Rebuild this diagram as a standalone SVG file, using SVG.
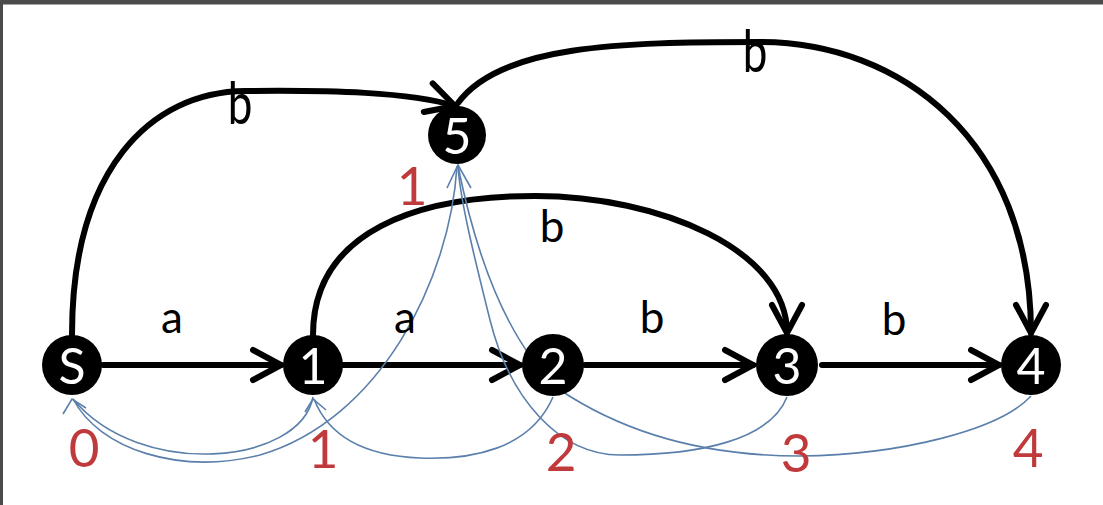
<svg xmlns="http://www.w3.org/2000/svg" width="1103" height="505" viewBox="0 0 1103 505">
<defs>
<style>
.edge{fill:none;stroke:#000;stroke-width:6;stroke-linecap:round}
.fail{fill:none;stroke:#5a7fab;stroke-width:1.6}
.node{fill:#000}
.nl{fill:#fff;font-family:Lato,"Open Sans",sans-serif;font-size:50px;text-anchor:middle}
.lbl{fill:#000;font-family:Lato,"Open Sans",sans-serif;font-size:44px;text-anchor:middle}
.num{fill:#c0393b;font-family:Lato,"Open Sans",sans-serif;font-size:53px;text-anchor:middle}
</style>
<marker id="ah" markerUnits="userSpaceOnUse" markerWidth="40" markerHeight="40" viewBox="-34 -20 40 40" refX="0" refY="0" orient="auto">
<path d="M-28,-15 L0,0 L-28,15" fill="none" stroke="#000" stroke-width="6" stroke-linecap="round" stroke-linejoin="miter"/>
</marker>
</defs>
<rect x="0" y="0" width="1103" height="505" fill="#fff"/>
<rect x="0" y="0" width="1103" height="4.5" fill="#4b4b4b"/>
<rect x="0" y="0" width="3" height="505" fill="#4b4b4b"/>

<g id="connectors">
<path class="edge" d="M103,365 L281,365" marker-end="url(#ah)"/>
<path class="edge" d="M342,365 L520,365" marker-end="url(#ah)"/>
<path class="edge" d="M585,365 L753,365" marker-end="url(#ah)"/>
<path class="edge" d="M822,365 L999,365" marker-end="url(#ah)"/>
<path class="edge" d="M72,335 C72,170 150,92 245,91 C330,90 410,92 455,106" marker-end="url(#ah)"/>
<path class="edge" d="M458,103 C500,45 620,42 760,42 C900,42 1031,140 1031,333" marker-end="url(#ah)"/>
<path class="edge" d="M313,335 C313,230 420,196 535,196 C660,196 787,250 787,333" marker-end="url(#ah)"/>

<path class="fail" d="M313,397 C300,465 140,480 73,399"/>
<path class="fail" d="M457,166 C450,280 380,420 260,455 C180,475 100,450 73,399"/>
<path class="fail" d="M553,397 C530,450 470,460 420,458 C370,456 330,440 314,399"/>
<path class="fail" d="M787,397 C770,440 700,455 620,455 C560,455 510,400 490,320 C475,260 460,200 458,166"/>
<path class="fail" d="M1031,396 C1000,430 900,455 800,456 C700,456 620,430 560,390 C505,340 475,250 458,166"/>
<path class="fail" d="M63,414 L72,399 L86,408"/>
<path class="fail" d="M305,412 L313,399 L326,410"/>
<path class="fail" d="M447,188 L458,165 L471,188"/>

<text class="lbl" x="172" y="333">a</text>
<text class="lbl" x="405" y="333">a</text>
<text class="lbl" x="652" y="333">b</text>
<text class="lbl" x="894" y="335">b</text>
<text class="lbl" x="552" y="242">b</text>
<text class="lbl" transform="translate(240,124) scale(1,1.3)" x="0" y="0">b</text>
<text class="lbl" transform="translate(755,72) scale(1,1.3)" x="0" y="0">b</text>
</g>

<g id="node-S"><circle class="node" cx="72" cy="365" r="30"/><text class="nl" x="72" y="384">S</text><text class="num" x="84" y="467">0</text></g>
<g id="node-1"><circle class="node" cx="313" cy="365" r="30"/><text class="nl" x="313" y="384">1</text><text class="num" x="323" y="468">1</text></g>
<g id="node-2"><circle class="node" cx="553" cy="365" r="31"/><text class="nl" x="553" y="384">2</text><text class="num" x="561" y="471">2</text></g>
<g id="node-3"><circle class="node" cx="787" cy="365" r="31"/><text class="nl" x="787" y="384">3</text><text class="num" x="796" y="472">3</text></g>
<g id="node-4"><circle class="node" cx="1031" cy="365" r="30"/><text class="nl" x="1031" y="384">4</text><text class="num" x="1028" y="467">4</text></g>
<g id="node-5"><circle class="node" cx="457" cy="135" r="29"/><text class="nl" x="457" y="154">5</text><text class="num" x="412" y="205">1</text></g>
</svg>
